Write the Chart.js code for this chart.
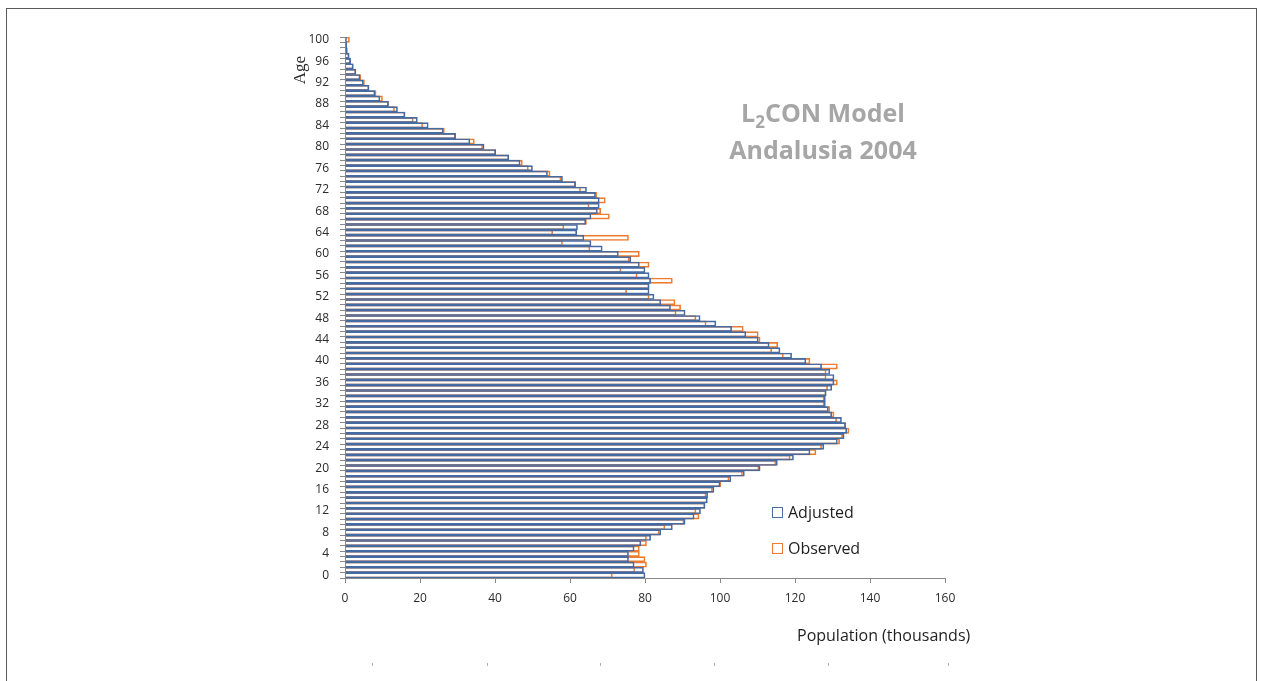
<!DOCTYPE html>
<html>
<head>
<meta charset="utf-8">
<script src="https://cdn.jsdelivr.net/npm/chart.js@4.4.1/dist/chart.umd.min.js"></script>
<style>
  html, body { margin: 0; padding: 0; background: #fff; }
  #wrap { position: relative; width: 1261px; height: 681px; overflow: hidden; font-family: "Open Sans", Lato, sans-serif; }
  #frame { position: absolute; left: 6px; top: 8px; width: 1249px; height: 720px; border: 1px solid #5a5a5a; border-bottom: none; }
  #chart { position: absolute; left: 0; top: 0; }
  .ttl { position: absolute; left: 673px; width: 300px; text-align: center; font-weight: bold; font-size: 25px; color: #a6a6a6; line-height: 1; white-space: nowrap; }
  .ttl sub { font-size: 17px; vertical-align: -6px; line-height: 0; }
  .leg { position: absolute; font-size: 16px; color: #1f1f1f; line-height: 1; white-space: nowrap; }
  .leg i { display: inline-block; width: 9px; height: 9px; border: 1px solid; margin-right: 5px; vertical-align: 0px; }
  #xt { position: absolute; left: 797px; top: 626px; font-size: 16px; color: #1f1f1f; white-space: nowrap; line-height: 1.2; }
  #yt { position: absolute; left: 280px; top: 60px; width: 40px; text-align: center; font-family: "Liberation Serif", "DejaVu Serif", serif; font-size: 17px; color: #2a2a2a; transform: rotate(-90deg); }
  .stub { position: absolute; top: 663px; width: 1px; height: 3px; background: #b0b0b0; }
</style>
</head>
<body>
<div id="wrap">
  <div id="frame"></div>
  <canvas id="chart" width="1261" height="681"></canvas>
  <div class="ttl" style="top:100px">L<sub>2</sub>CON Model</div>
  <div class="ttl" style="top:137px">Andalusia 2004</div>
  <div class="leg" style="left:772px; top:504px"><i style="border-color:#4a6ea4"></i>Adjusted</div>
  <div class="leg" style="left:772px; top:540px"><i style="border-color:#ee7c30"></i>Observed</div>
  <div id="xt">Population (thousands)</div>
  <div id="yt">Age</div>
  <div class="stub" style="left:372px"></div>
  <div class="stub" style="left:487px"></div>
  <div class="stub" style="left:600px"></div>
  <div class="stub" style="left:714px"></div>
  <div class="stub" style="left:828px"></div>
  <div class="stub" style="left:948px"></div>
</div>
<script>
// Single ages 0..100
const ages = Array.from({ length: 101 }, (_, i) => i);

// Population by single age, thousands (index = age)
const adjusted = [
  80.0, 79.6, 77.1, 75.6, 75.6, 77.1, 78.9, 81.5, 84.2, 87.3,
  90.7, 93.1, 94.8, 96.0, 96.6, 96.7, 98.4, 100.0, 102.9, 106.5,
  110.7, 115.3, 119.6, 124.0, 127.7, 131.3, 133.1, 133.8, 133.5, 132.4,
  129.8, 128.9, 128.1, 128.1, 128.3, 129.8, 130.4, 130.4, 129.3, 127.1,
  122.9, 119.1, 116.0, 113.1, 110.2, 106.9, 103.1, 98.9, 94.7, 90.7,
  86.8, 84.2, 82.4, 81.1, 81.1, 81.5, 81.1, 80.0, 78.5, 76.2,
  72.9, 68.6, 65.6, 63.7, 61.8, 62.0, 64.2, 65.6, 67.3, 67.8,
  67.8, 66.8, 64.4, 61.5, 58.0, 54.0, 50.0, 46.7, 43.7, 40.2,
  37.1, 33.3, 29.5, 26.2, 22.2, 19.3, 16.0, 14.0, 11.6, 9.3,
  8.0, 6.4, 4.9, 4.0, 2.9, 2.2, 1.5, 1.1, 0.6, 0.5,
  0.4
];
const observed = [
  71.3, 77.3, 80.4, 80.0, 78.5, 78.5, 80.4, 80.4, 83.8, 85.3,
  90.4, 94.4, 93.6, 96.0, 96.6, 96.3, 98.0, 100.2, 102.4, 106.0,
  110.4, 114.9, 118.7, 125.6, 127.1, 131.9, 132.7, 134.4, 133.5, 131.1,
  130.4, 129.3, 127.8, 127.8, 128.3, 128.7, 131.3, 128.3, 128.3, 131.3,
  124.0, 116.9, 113.8, 115.4, 110.7, 110.2, 106.2, 96.3, 93.6, 88.3,
  89.5, 88.0, 81.1, 75.1, 81.1, 87.3, 77.9, 73.6, 81.1, 75.8,
  78.5, 65.3, 58.0, 75.6, 55.4, 58.4, 64.4, 70.5, 68.2, 65.1,
  69.4, 67.1, 62.8, 61.5, 57.6, 54.7, 48.9, 47.3, 43.7, 40.2,
  36.7, 34.5, 29.5, 26.5, 20.7, 18.2, 16.0, 13.2, 11.6, 10.0,
  8.3, 6.4, 5.2, 4.2, 2.9, 2.2, 1.5, 1.1, 0.6, 0.3,
  1.2
];

// Value axis ticks
const popTicks = [0, 20, 40, 60, 80, 100, 120, 140, 160];
const ageLabelStep = 4;

const axisGrey = '#8a8a8a';
const tickText = '#2b2b2b';
const tickFont = { family: 'Open Sans', size: 12 };

new Chart(document.getElementById('chart'), {
  type: 'bar',
  data: {
    labels: ages,
    datasets: [
      { label: 'Adjusted', data: adjusted, backgroundColor: 'rgba(255,255,255,0)', borderColor: '#466aa2', borderWidth: 1 },
      { label: 'Observed', data: observed, backgroundColor: 'rgba(255,255,255,0)', borderColor: '#ee7c30', borderWidth: 1 }
    ]
  },
  options: {
    indexAxis: 'y',
    responsive: false,
    animation: false,
    devicePixelRatio: 1,
    layout: { padding: { left: 285, right: 316, top: 37, bottom: 63 } },
    datasets: { bar: { grouped: false, barPercentage: 1, categoryPercentage: 1 } },
    plugins: { legend: { display: false }, tooltip: { enabled: false } },
    scales: {
      x: {
        type: 'linear',
        min: popTicks[0],
        max: popTicks[popTicks.length - 1],
        afterBuildTicks(scale) { scale.ticks = popTicks.map(v => ({ value: v })); },
        ticks: { color: tickText, font: tickFont, padding: 8 },
        grid: { drawOnChartArea: false, drawTicks: true, tickLength: 5, color: axisGrey },
        border: { color: axisGrey, width: 1 },
        afterFit(scale) { scale.height = 40; }
      },
      y: {
        type: 'category',
        reverse: true,
        ticks: {
          autoSkip: false,
          color: tickText,
          font: tickFont,
          padding: 11,
          callback(value, index) { return ages[index] % ageLabelStep === 0 ? String(ages[index]) : ''; }
        },
        grid: { drawOnChartArea: false, drawTicks: true, tickLength: 5, offset: true, color: axisGrey },
        border: { color: axisGrey, width: 1 },
        afterFit(scale) { scale.width = 60; }
      }
    }
  }
});
</script>
</body>
</html>
